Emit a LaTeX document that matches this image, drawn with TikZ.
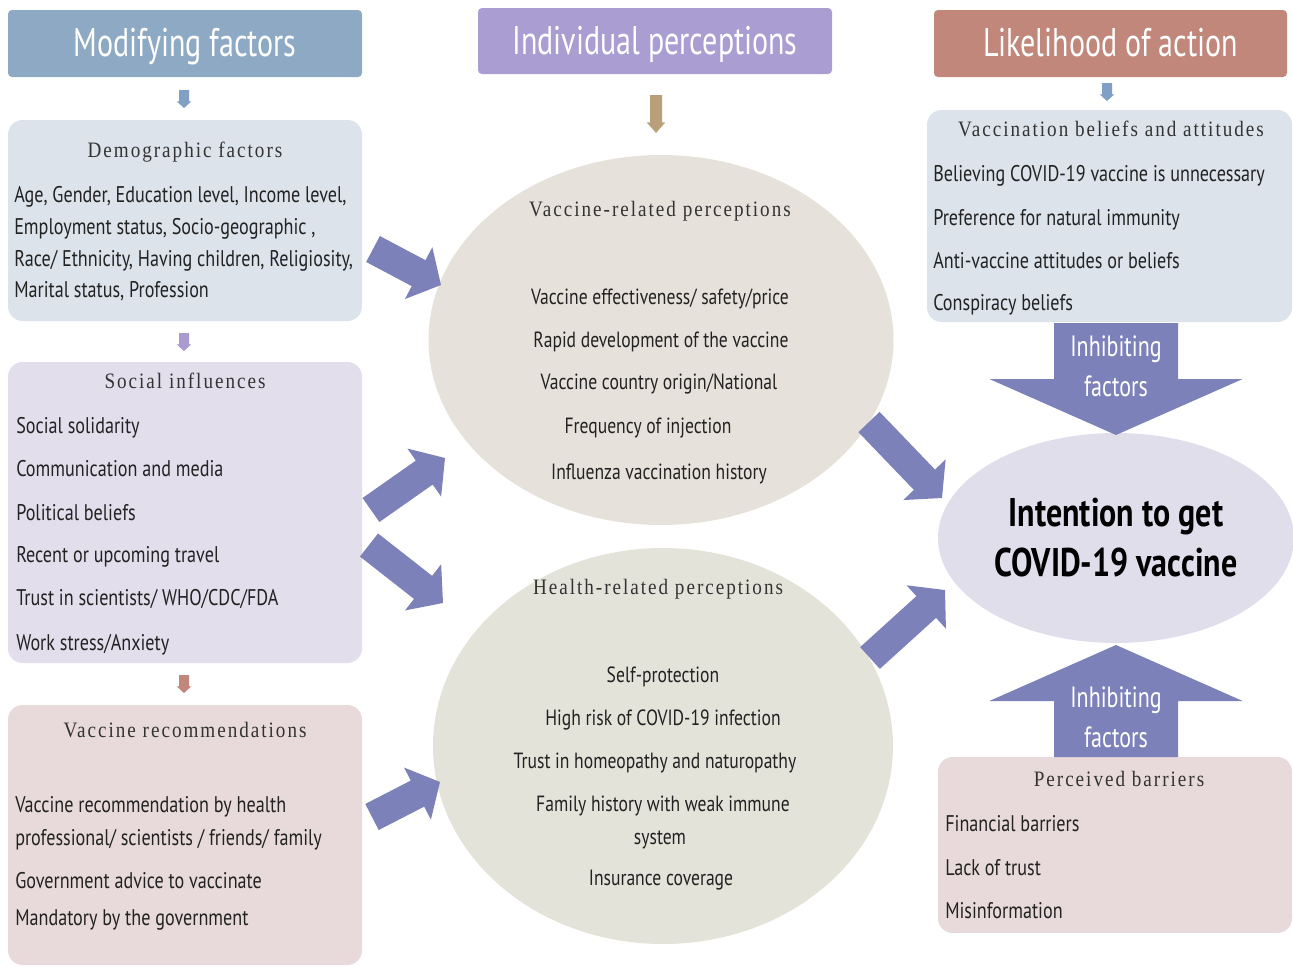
\documentclass[tikz,border=0pt]{standalone}
\usepackage{fontspec}
\setmainfont{PT Sans}[FakeStretch=0.8]
\newfontfamily\hdrfont{PT Sans}[FakeStretch=0.75]
\newfontfamily\bigfont{PT Sans}[FakeStretch=0.8]
\newfontfamily\ttlfont{Liberation Serif}[FakeStretch=0.87,LetterSpace=9]
\usetikzlibrary{calc,shapes.geometric}
\definecolor{hdrA}{HTML}{8DA9C4}
\definecolor{hdrB}{HTML}{A99DD2}
\definecolor{hdrC}{HTML}{C0877A}
\definecolor{boxA}{HTML}{DCE3EB}
\definecolor{boxB}{HTML}{E2DEEC}
\definecolor{boxC}{HTML}{E8DADB}
\definecolor{ellA}{HTML}{E6E1DB}
\definecolor{ellB}{HTML}{E3E3D9}
\definecolor{ellC}{HTML}{E1DEEC}
\definecolor{barrowc}{HTML}{7C82B9}
\definecolor{sarrA}{HTML}{7F9FC4}
\definecolor{sarrB}{HTML}{A99BD0}
\definecolor{sarrC}{HTML}{C0877A}
\definecolor{sarrD}{HTML}{B9A07A}
\definecolor{txt}{HTML}{222222}
\newcommand\blockarrow[6]{%
  \path ($(#2)!#5!(#1)$) coordinate (hb);
  \fill[#6] ($(#1)!#3!90:(#2)$) -- ($(hb)!#3!-90:(#1)$) -- ($(hb)!#4!-90:(#1)$) -- (#2)
    -- ($(hb)!#4!90:(#1)$) -- ($(hb)!#3!90:(#1)$) -- ($(#1)!#3!-90:(#2)$) -- cycle;}
\tikzset{
  hdr/.style={rectangle, rounded corners=3pt, inner sep=0pt},
  hdrtext/.style={anchor=mid, inner sep=0pt, text=white, yshift=-7.5pt,
    font=\hdrfont\fontsize{30}{30}\selectfont},
  panel/.style={rectangle, rounded corners=11pt, inner sep=0pt},
  ell/.style={ellipse, inner sep=0pt},
  ttl/.style={anchor=mid, inner sep=0pt, yshift=-3pt, text=black!80, font=\ttlfont\fontsize{16.5}{16.5}\selectfont},
  line/.style={anchor=mid west, inner sep=0pt, yshift=-3.75pt, text=txt, font=\fontsize{17}{17}\selectfont},
  cline/.style={anchor=mid, inner sep=0pt, yshift=-3.75pt, text=txt, font=\fontsize{16.5}{16.5}\selectfont},
  inh/.style={anchor=mid, inner sep=0pt, yshift=-4.5pt, text=white, font=\hdrfont\fontsize{22}{22}\selectfont},
  big/.style={anchor=mid, inner sep=0pt, yshift=-7.5pt, text=black, font=\bigfont\bfseries\fontsize{30}{30}\selectfont},
}
\begin{document}
\begin{tikzpicture}[x=0.75pt,y=-0.75pt]
\useasboundingbox (0,0) rectangle (1293,967);
% headers
\node[hdr, fill=hdrA, minimum width=265.5pt, minimum height=50.25pt] (h1) at (185,43.5) {};
\node[hdr, fill=hdrB, minimum width=265.5pt, minimum height=49.5pt] (h2) at (655,41) {};
\node[hdr, fill=hdrC, minimum width=264.75pt, minimum height=50.25pt] (h3) at (1110.5,43.5) {};
\node[hdrtext] (h1t) at (h1.center) {Modifying factors};
\node[hdrtext] (h2t) at (h2.center) {Individual perceptions};
\node[hdrtext] (h3t) at (h3.center) {Likelihood of action};
% panels
\node[panel, fill=boxA, minimum width=265.5pt, minimum height=150.75pt] (demo) at (185,220.5) {};
\node[panel, fill=boxB, minimum width=265.5pt, minimum height=225.75pt] (soc) at (185,512.5) {};
\node[panel, fill=boxC, minimum width=265.5pt, minimum height=195pt] (rec) at (185,835) {};
\node[panel, fill=boxA, minimum width=273.75pt, minimum height=159pt] (bel) at (1109.5,216) {};
\node[panel, fill=boxC, minimum width=265.5pt, minimum height=132pt] (bar) at (1115,845) {};
% ellipses
\node[ell, fill=ellA, minimum width=348.75pt, minimum height=277.5pt] (vrp) at (661,340) {};
\node[ell, fill=ellB, minimum width=345pt, minimum height=297pt] (hrp) at (663,746) {};
\node[ell, fill=ellC, minimum width=267pt, minimum height=157.5pt] (int) at (1116,538) {};
% small arrows
\coordinate (s1a) at (184,90); \coordinate (s1b) at (184,108);
\coordinate (s2a) at (184,333); \coordinate (s2b) at (184,351);
\coordinate (s3a) at (184,675); \coordinate (s3b) at (184,693);
\coordinate (s4a) at (1107,83); \coordinate (s4b) at (1107,101);
\coordinate (s5a) at (656,95); \coordinate (s5b) at (656,133);
\blockarrow{s1a}{s1b}{3.75pt}{5.5pt}{5pt}{sarrA}
\blockarrow{s2a}{s2b}{3.75pt}{5.5pt}{5pt}{sarrB}
\blockarrow{s3a}{s3b}{3.75pt}{5.5pt}{5pt}{sarrC}
\blockarrow{s4a}{s4b}{3.75pt}{5.5pt}{5pt}{sarrA}
\blockarrow{s5a}{s5b}{4.5pt}{7pt}{8pt}{sarrD}
% block arrows
\coordinate (a1s) at (373,249); \coordinate (a1t) at (441,285);
\coordinate (a2s) at (371,510); \coordinate (a2t) at (445,458);
\coordinate (a3s) at (369,545); \coordinate (a3t) at (443,603);
\coordinate (a4s) at (372,817); \coordinate (a4t) at (440,782);
\coordinate (a5s) at (869,422); \coordinate (a5t) at (942,498);
\coordinate (a6s) at (870,658); \coordinate (a6t) at (945,590);
\blockarrow{a1s}{a1t}{11pt}{22pt}{19pt}{barrowc}
\blockarrow{a2s}{a2t}{11pt}{22pt}{19pt}{barrowc}
\blockarrow{a3s}{a3t}{11pt}{22pt}{19pt}{barrowc}
\blockarrow{a4s}{a4t}{11pt}{22pt}{19pt}{barrowc}
\blockarrow{a5s}{a5t}{11pt}{22pt}{19pt}{barrowc}
\blockarrow{a6s}{a6t}{11pt}{22pt}{19pt}{barrowc}
% inhibiting arrows
\coordinate (i1s) at (1116,323); \coordinate (i1t) at (1116,435);
\coordinate (i2s) at (1116,757); \coordinate (i2t) at (1116,645);
\blockarrow{i1s}{i1t}{46.5pt}{95pt}{42pt}{barrowc}
\blockarrow{i2s}{i2t}{46.5pt}{95pt}{42pt}{barrowc}
\node[inh] (i1a) at (1116,347) {Inhibiting};
\node[inh] (i1b) at (1116,387) {factors};
\node[inh] (i2a) at (1116,698) {Inhibiting};
\node[inh] (i2b) at (1116,738) {factors};
% intention
\node[big] (it1) at (1116,513) {Intention to get};
\node[big] (it2) at (1116,563) {COVID-19 vaccine};
% demographic
\node[ttl] (dt) at (185,150) {Demographic factors};
\node[line] (d1) at (14,194) {Age, Gender, Education level, Income level,};
\node[line] (d2) at (14,226) {Employment status, Socio-geographic ,};
\node[line] (d3) at (14,258) {Race/ Ethnicity, Having children, Religiosity,};
\node[line] (d4) at (14,289) {Marital status, Profession};
% social
\node[ttl] (st) at (185,381) {Social influences};
\node[line] (so1) at (16,425) {Social solidarity};
\node[line] (so2) at (16,468) {Communication and media};
\node[line] (so3) at (16,512) {Political beliefs};
\node[line] (so4) at (16,554) {Recent or upcoming travel};
\node[line] (so5) at (16,597) {Trust in scientists/ WHO/CDC/FDA};
\node[line] (so6) at (16,642) {Work stress/Anxiety};
% recommendations
\node[ttl] (rt) at (185,730) {Vaccine recommendations};
\node[line] (r1) at (15,804) {Vaccine recommendation by health};
\node[line] (r2) at (15,837) {professional/ scientists / friends/ family};
\node[line] (r3) at (15,880) {Government advice to vaccinate};
\node[line] (r4) at (15,917) {Mandatory by the government};
% vaccine-related
\node[ttl] (vt) at (660,209) {Vaccine-related perceptions};
\node[cline] (v1) at (660,296) {Vaccine effectiveness/ safety/price};
\node[cline] (v2) at (661,339) {Rapid development of the vaccine};
\node[cline] (v3) at (659,381) {Vaccine country origin/National};
\node[cline] (v4) at (648,425) {Frequency of injection};
\node[cline] (v5) at (659,471) {Influenza vaccination history};
% health-related
\node[ttl] (ht) at (658,587) {Health-related perceptions};
\node[cline] (e1) at (663,674) {Self-protection};
\node[cline] (e2) at (663,717) {High risk of COVID-19 infection};
\node[cline] (e3) at (655,760) {Trust in homeopathy and naturopathy};
\node[cline] (e4) at (663,803) {Family history with weak immune};
\node[cline] (e5) at (660,836) {system};
\node[cline] (e6) at (661,877) {Insurance coverage};
% beliefs
\node[ttl] (bt) at (1111,129) {Vaccination beliefs and attitudes};
\node[line] (b1) at (933,173) {Believing COVID-19 vaccine is unnecessary};
\node[line] (b2) at (933,217) {Preference for natural immunity};
\node[line] (b3) at (933,260) {Anti-vaccine attitudes or beliefs};
\node[line] (b4) at (933,302) {Conspiracy beliefs};
% barriers
\node[ttl] (pt) at (1119,779) {Perceived barriers};
\node[line] (p1) at (945,823) {Financial barriers};
\node[line] (p2) at (945,867) {Lack of trust};
\node[line] (p3) at (945,910) {Misinformation};
\end{tikzpicture}
\end{document}
